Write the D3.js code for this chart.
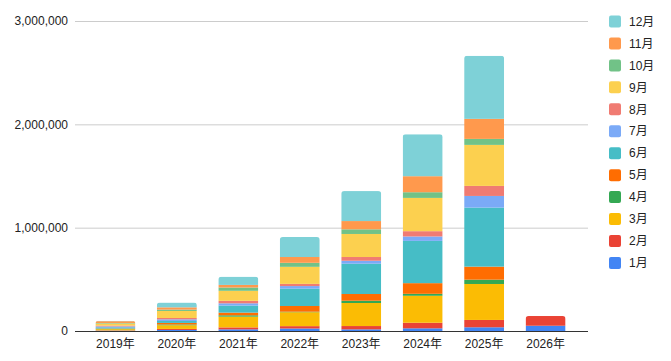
<!DOCTYPE html>
<html>
<head>
<meta charset="utf-8">
<script src="https://cdn.jsdelivr.net/npm/d3@7"></script>
<style>
  body { margin: 0; background: #fff; }
  svg { font-family: "Liberation Sans", Arial, "Noto Sans CJK SC", sans-serif; }
</style>
</head>
<body>
<div id="chart"></div>
<script>
var years = ['2019年', '2020年', '2021年', '2022年', '2023年', '2024年', '2025年', '2026年'];
var months = ['1月', '2月', '3月', '4月', '5月', '6月', '7月', '8月', '9月', '10月', '11月', '12月'];
var colors = ['#4285f4', '#ea4335', '#fbbc04', '#34a853', '#ff6d01', '#46bdc6',
              '#7baaf7', '#f07b72', '#fcd04f', '#71c287', '#ff994d', '#7ed1d7'];
var yTicks = [0, 1000000, 2000000, 3000000];

// one array per month, values per year (2019..2026)
var m1  = [3000, 10000, 16000, 24000, 16000, 26000, 36000, 51000];
var m2  = [3000, 10000, 19000, 23000, 32000, 54000, 71000, 94000];
var m3  = [12000, 36000, 104000, 135000, 223000, 261000, 348000, 0];
var m4  = [2000, 7000, 13000, 5000, 22000, 19000, 42000, 0];
var m5  = [4000, 15000, 26000, 55000, 65000, 103000, 126000, 0];
var m6  = [12000, 19000, 68000, 167000, 293000, 409000, 571000, 0];
var m7  = [8000, 16000, 22000, 26000, 29000, 43000, 113000, 0];
var m8  = [8000, 13000, 24000, 21000, 36000, 51000, 97000, 0];
var m9  = [20000, 68000, 97000, 165000, 223000, 322000, 397000, 0];
var m10 = [5000, 13000, 32000, 39000, 45000, 55000, 58000, 0];
var m11 = [18000, 22000, 25000, 56000, 80000, 155000, 194000, 0];
var m12 = [3000, 46000, 80000, 194000, 290000, 406000, 610000, 0];
var series = [m1, m2, m3, m4, m5, m6, m7, m8, m9, m10, m11, m12];

var W = 671, H = 361,
    plotL = 75, plotR = 588, plotT = 21, plotB = 331;

var rows = years.map(function (y, i) {
  var r = { year: y };
  months.forEach(function (m, k) { r[m] = series[k][i]; });
  return r;
});

var stack = d3.stack().keys(months)(rows);

var x = d3.scaleBand().domain(years).range([85, 576]).paddingInner(0.35).paddingOuter(0.17);
var y = d3.scaleLinear().domain([0, 3000000]).range([plotB, plotT]);

var svg = d3.select('#chart').append('svg')
  .attr('width', W).attr('height', H);

// grid
svg.append('g').selectAll('line').data(yTicks.slice(1))
  .enter().append('line')
  .attr('x1', plotL).attr('x2', plotR)
  .attr('y1', function (d) { return y(d) + 0.5; })
  .attr('y2', function (d) { return y(d) + 0.5; })
  .attr('stroke', '#cccccc');

svg.append('g').selectAll('text').data(yTicks)
  .enter().append('text')
  .attr('x', 68).attr('y', function (d) { return y(d); })
  .attr('dy', '0.35em')
  .attr('text-anchor', 'end')
  .attr('font-size', 12).attr('fill', '#222')
  .text(d3.format(','));

// clip each bar with rounded top
var defs = svg.append('defs');
rows.forEach(function (r, i) {
  var total = d3.sum(months, function (m) { return r[m]; });
  var top = y(total), bw = x.bandwidth(), x0 = x(r.year), rr = 3;
  defs.append('clipPath').attr('id', 'clip' + i)
    .append('path')
    .attr('d', 'M' + x0 + ',' + plotB + 'V' + (top + rr) +
      'Q' + x0 + ',' + top + ' ' + (x0 + rr) + ',' + top +
      'H' + (x0 + bw - rr) +
      'Q' + (x0 + bw) + ',' + top + ' ' + (x0 + bw) + ',' + (top + rr) +
      'V' + plotB + 'Z');
});

var bars = svg.append('g').selectAll('g').data(years)
  .enter().append('g')
  .attr('clip-path', function (d, i) { return 'url(#clip' + i + ')'; });

bars.each(function (yr, i) {
  var g = d3.select(this);
  stack.forEach(function (s, k) {
    var d = s[i];
    if (d[1] - d[0] <= 0) return;
    g.append('rect')
      .attr('x', x(yr))
      .attr('width', x.bandwidth())
      .attr('y', y(d[1]))
      .attr('height', y(d[0]) - y(d[1]))
      .attr('fill', colors[k]);
  });
});

// baseline
svg.append('line')
  .attr('x1', plotL).attr('x2', plotR)
  .attr('y1', plotB + 0.5).attr('y2', plotB + 0.5)
  .attr('stroke', '#333');

svg.append('g').selectAll('text').data(years)
  .enter().append('text')
  .attr('x', function (d) { return x(d) + x.bandwidth() / 2; })
  .attr('y', 348)
  .attr('text-anchor', 'middle')
  .attr('font-size', 12).attr('fill', '#222')
  .text(function (d) { return d; });

// legend, 12月 on top
var legend = svg.append('g').selectAll('g').data(months.slice().reverse())
  .enter().append('g')
  .attr('transform', function (d, i) { return 'translate(609,' + (15.5 + i * 21.95) + ')'; });

legend.append('rect')
  .attr('width', 12).attr('height', 12).attr('rx', 2)
  .attr('fill', function (d) { return colors[months.indexOf(d)]; });

legend.append('text')
  .attr('x', 20).attr('y', 6).attr('dy', '0.35em')
  .attr('font-size', 12).attr('fill', '#222')
  .text(function (d) { return d; });
</script>
</body>
</html>
